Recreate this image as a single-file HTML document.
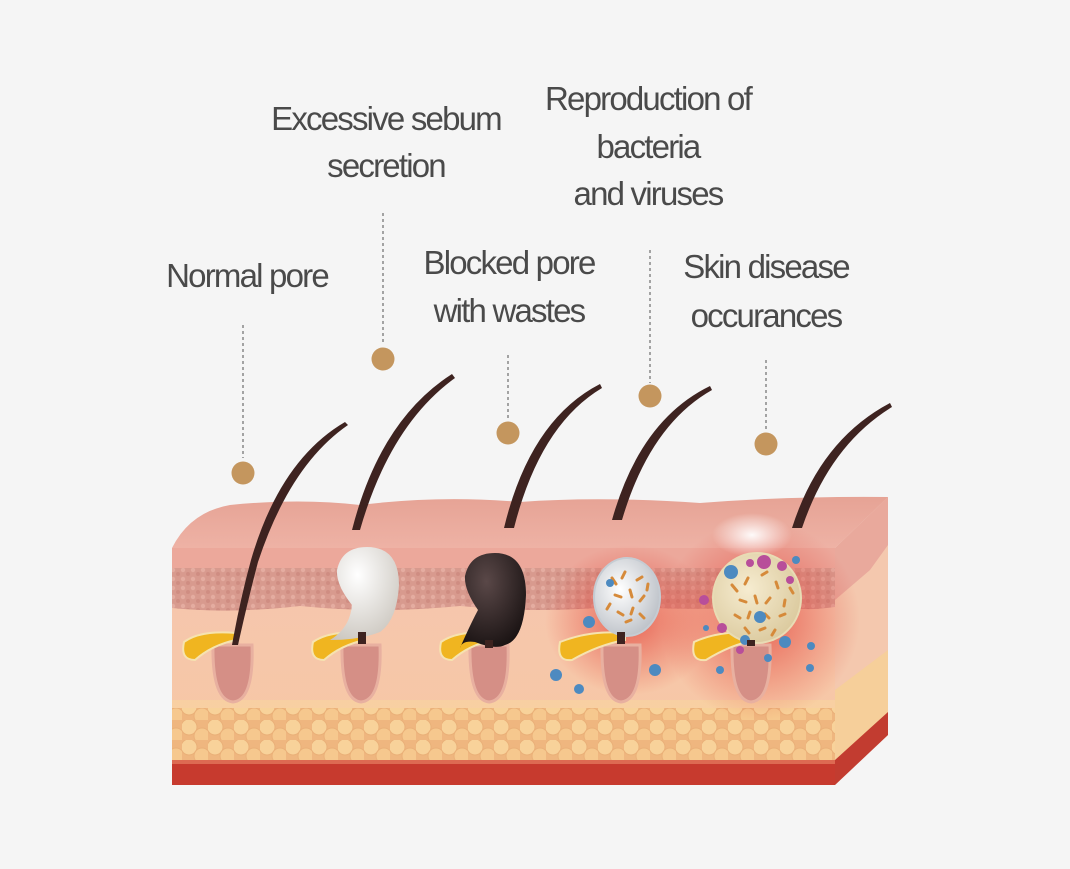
<!DOCTYPE html>
<html><head><meta charset="utf-8"><style>
html,body{margin:0;padding:0;background:#f5f5f5;}
.t{font-family:"Liberation Sans",sans-serif;font-size:33px;fill:#4a4a4a;letter-spacing:-1.8px;text-anchor:middle;}
</style></head><body>
<svg width="1070" height="864" viewBox="0 0 1070 864" xmlns="http://www.w3.org/2000/svg">
<defs>
<linearGradient id="top" x1="0" y1="0" x2="0" y2="1"><stop offset="0" stop-color="#e6a395"/><stop offset="1" stop-color="#eeb2a5"/></linearGradient>
<linearGradient id="body" x1="0" y1="0" x2="0" y2="1"><stop offset="0" stop-color="#f6c6b0"/><stop offset="1" stop-color="#f7c8a2"/></linearGradient>
<radialGradient id="white" cx="0.4" cy="0.3" r="0.8"><stop offset="0" stop-color="#ffffff"/><stop offset="1" stop-color="#c9c4bc"/></radialGradient>
<radialGradient id="black" cx="0.4" cy="0.3" r="0.8"><stop offset="0" stop-color="#5a4848"/><stop offset="1" stop-color="#140e0e"/></radialGradient>
<radialGradient id="bact" cx="0.4" cy="0.4" r="0.7"><stop offset="0" stop-color="#ffffff"/><stop offset="1" stop-color="#b7bcc3"/></radialGradient>
<radialGradient id="yel" cx="0.4" cy="0.4" r="0.7"><stop offset="0" stop-color="#f6ecd0"/><stop offset="1" stop-color="#d9c79a"/></radialGradient>
<radialGradient id="red" cx="0.5" cy="0.5" r="0.5"><stop offset="0" stop-color="#e23a30" stop-opacity="0.7"/><stop offset="1" stop-color="#e23a30" stop-opacity="0"/></radialGradient>
<radialGradient id="glow" cx="0.5" cy="0.5" r="0.5"><stop offset="0" stop-color="#fff" stop-opacity="0.95"/><stop offset="1" stop-color="#fff" stop-opacity="0"/></radialGradient>
<pattern id="dots" width="10" height="9" patternUnits="userSpaceOnUse"><rect width="10" height="9" fill="#d89a8e"/><circle cx="3" cy="3" r="2.2" fill="#e4aca0"/><circle cx="8" cy="7" r="2" fill="#cf8d82"/></pattern>
<pattern id="fatp" width="26" height="20" patternUnits="userSpaceOnUse"><rect width="26" height="20" fill="#efb67f"/><circle cx="7" cy="7" r="8" fill="#f8d29a" stroke="#eab078" stroke-width="1"/><circle cx="20" cy="16" r="8" fill="#f6c88e" stroke="#eab078" stroke-width="1"/></pattern>
</defs>

<text class="t" x="386" y="130">Excessive sebum</text>
<text class="t" x="386" y="177">secretion</text>
<text class="t" x="648" y="110">Reproduction of</text>
<text class="t" x="648" y="158">bacteria</text>
<text class="t" x="648" y="205">and viruses</text>
<text class="t" x="247" y="287">Normal pore</text>
<text class="t" x="509" y="274">Blocked pore</text>
<text class="t" x="509" y="322">with wastes</text>
<text class="t" x="766" y="278">Skin disease</text>
<text class="t" x="766" y="327">occurances</text>

<g stroke="#777" stroke-width="1.3" stroke-dasharray="3,3">
<line x1="243" y1="325" x2="243" y2="458"/>
<line x1="383" y1="213" x2="383" y2="345"/>
<line x1="508" y1="355" x2="508" y2="420"/>
<line x1="650" y1="250" x2="650" y2="383"/>
<line x1="766" y1="360" x2="766" y2="430"/>
</g>
<g fill="#c4965e">
<circle cx="243" cy="473" r="11.5"/><circle cx="383" cy="359" r="11.5"/><circle cx="508" cy="433" r="11.5"/><circle cx="650" cy="396" r="11.5"/><circle cx="766" cy="444" r="11.5"/>
</g>

<!-- side face -->
<path d="M835 548 L888 497 L888 735 L835 785 Z" fill="#f4c8ae"/>
<path d="M835 690 L888 650 L888 715 L835 760 Z" fill="#f6cf9a"/>
<path d="M835 760 L888 712 L888 735 L835 785 Z" fill="#c23c30"/>
<path d="M835 548 L888 497 L888 545 L870 570 L835 600 Z" fill="#e9a99c"/>
<!-- top surface -->
<path d="M172 548 Q190 512 230 505 Q300 498 360 505 Q440 495 520 502 Q600 496 700 503 Q790 496 888 497 L835 548 Z" fill="url(#top)"/>
<!-- front face -->
<rect x="172" y="548" width="663" height="237" fill="url(#body)"/>
<path d="M172 548 L835 548 L835 570 L172 570 Z" fill="#eca89b"/>
<path d="M172 568 L835 568 L835 607 Q800 612 780 605 Q700 612 620 606 Q540 614 460 606 Q380 614 300 606 Q230 614 172 608 Z" fill="url(#dots)"/>
<rect x="172" y="700" width="663" height="12" fill="#f8d3a0" opacity="0.7"/>
<rect x="172" y="708" width="663" height="54" fill="url(#fatp)"/>
<rect x="172" y="760" width="663" height="25" fill="#c73a2e"/>
<rect x="172" y="760" width="663" height="4" fill="#dd6a52"/>

<ellipse cx="630" cy="620" rx="85" ry="75" fill="url(#red)"/>
<ellipse cx="760" cy="620" rx="100" ry="100" fill="url(#red)"/>
<ellipse cx="752" cy="535" rx="40" ry="22" fill="url(#glow)"/>

<g>
<g fill="#d58f86" stroke="#e8b0a0" stroke-width="3">
<path d="M213 645 Q212 700 233 702 Q254 700 252 645 Z"/>
<path d="M342 645 Q341 700 361 702 Q382 700 380 645 Z"/>
<path d="M470 645 Q469 700 489 702 Q510 700 508 645 Z"/>
<path d="M602 645 Q601 700 621 702 Q642 700 640 645 Z"/>
<path d="M732 645 Q731 700 751 702 Q772 700 770 645 Z"/>
</g>
<g fill="#f0b520" stroke="#f6e3b0" stroke-width="2">
<path d="M236 633 Q200 630 184 642 Q180 660 195 660 Q212 645 236 640 Z"/>
<path d="M365 633 Q330 630 313 642 Q309 660 324 660 Q341 645 365 640 Z"/>
<path d="M493 633 Q458 630 441 642 Q437 660 452 660 Q469 645 493 640 Z"/>
<path d="M625 633 Q590 630 560 642 Q556 662 572 660 Q598 645 625 640 Z"/>
<path d="M755 633 Q720 630 694 642 Q690 662 706 660 Q730 645 755 640 Z"/>
</g>
</g>

<path d="M367 547 Q399 547 399 585 Q397 620 380 632 Q360 640 330 640 Q350 628 352 605 Q336 585 337 570 Q342 547 367 547 Z" fill="url(#white)"/>
<path d="M495 553 Q526 553 526 595 Q524 640 505 645 Q495 650 475 642 Q462 640 460 648 Q470 625 478 610 Q464 590 465 576 Q470 553 495 553 Z" fill="url(#black)"/>
<ellipse cx="627" cy="597" rx="33" ry="39" fill="url(#bact)" stroke="#c5ccd3" stroke-width="2"/>
<ellipse cx="757" cy="598" rx="44" ry="45" fill="url(#yel)" stroke="#e8dcb5" stroke-width="2"/>

<g stroke="#d68a3a" stroke-width="3" stroke-linecap="round">
<path d="M612 578l4 6M625 572l-3 6M637 580l5-3M615 595l6 2M630 590l2 7M644 596l-4 5M618 612l5 3M633 608l-2 6M610 604l-3 5M640 614l4 4M626 622l5-2M648 584l-1 6"/>
<path d="M732 585l5 6M748 578l-3 6M762 575l5-3M776 582l2 6M740 600l6 2M755 596l2 7M770 598l-4 5M785 600l-1 6M735 615l5 3M750 612l-2 6M765 614l4 4M780 616l5-2M745 628l4 5M760 630l5-2M775 630l-3 5M790 588l3 5"/>
</g>
<g fill="#b84e9a">
<circle cx="764" cy="562" r="7"/><circle cx="782" cy="566" r="5"/><circle cx="750" cy="563" r="4"/><circle cx="790" cy="580" r="4"/><circle cx="722" cy="628" r="5"/><circle cx="704" cy="600" r="5"/><circle cx="740" cy="650" r="4"/>
</g>
<g fill="#4d8ac0">
<circle cx="731" cy="572" r="7"/><circle cx="760" cy="617" r="6"/><circle cx="610" cy="583" r="4"/><circle cx="589" cy="622" r="6"/><circle cx="556" cy="675" r="6"/><circle cx="579" cy="689" r="5"/><circle cx="655" cy="670" r="6"/><circle cx="785" cy="642" r="6"/><circle cx="811" cy="646" r="4"/><circle cx="810" cy="668" r="4"/><circle cx="706" cy="628" r="3"/><circle cx="720" cy="670" r="4"/><circle cx="768" cy="658" r="4"/><circle cx="745" cy="640" r="5"/><circle cx="796" cy="560" r="4"/>
</g>

<g fill="#3e2320">
<path d="M345 422 Q280 460 251 560 Q240 600 232 645 L238 645 Q248 600 258 562 Q290 465 348 425 Z"/>
<path d="M452 374 Q380 420 352 530 L360 530 Q390 425 455 378 Z"/>
<path d="M600 384 Q530 420 504 528 L514 528 Q540 425 602 388 Z"/>
<path d="M710 386 Q640 420 612 520 L622 520 Q650 425 712 390 Z"/>
<path d="M890 403 Q820 440 792 528 L802 528 Q830 445 892 407 Z"/>
</g>
<g fill="#3e2320">
<rect x="358" y="632" width="8" height="12"/><rect x="485" y="640" width="8" height="8"/><rect x="617" y="632" width="8" height="12"/><rect x="747" y="640" width="8" height="6"/>
</g>
</svg>
</body></html>
